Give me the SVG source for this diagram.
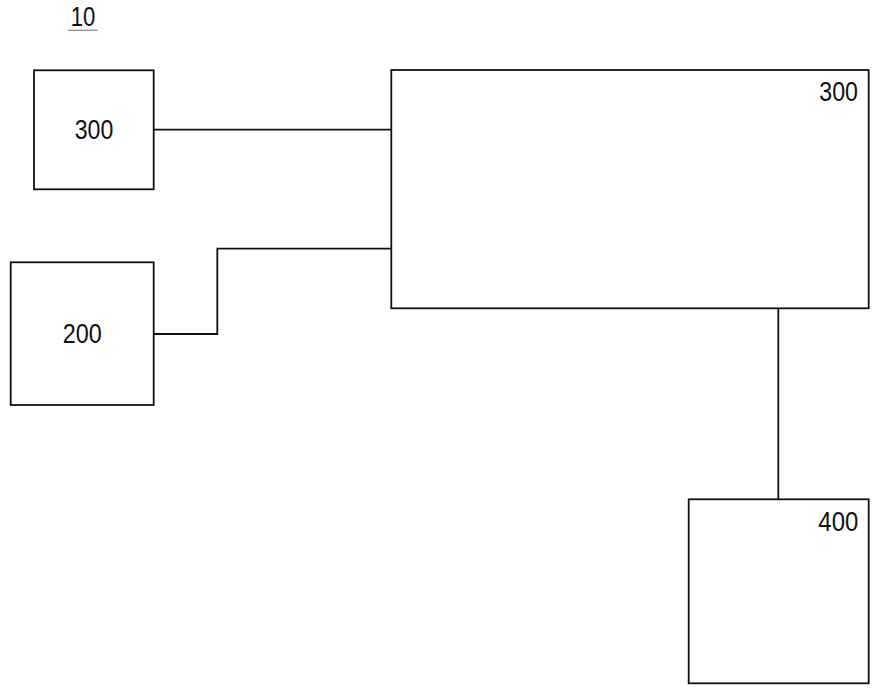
<svg xmlns="http://www.w3.org/2000/svg" width="879" height="692" viewBox="0 0 879 692">
<style>
.box{fill:#fff;stroke:#111;stroke-width:1.8}
.wire{fill:none;stroke:#111;stroke-width:1.8}
.lbl{font-family:"Liberation Sans",Arial,sans-serif;font-size:27px;fill:#111}
</style>
<rect width="879" height="692" fill="#fff"/>
<g id="title">
<text class="lbl" x="70.7" y="26" textLength="24.6" lengthAdjust="spacingAndGlyphs">10</text>
<line x1="67.7" y1="30.3" x2="97.7" y2="30.3" stroke="#888" stroke-width="1.2"/>
</g>
<g id="connectors">
<line class="wire" x1="153.7" y1="129.7" x2="391.3" y2="129.7"/>
<polyline class="wire" points="153.7,334 217.3,334 217.3,248.7 391.3,248.7"/>
<line class="wire" x1="778.3" y1="308.3" x2="778.3" y2="499.3"/>
</g>
<g id="node-300-small">
<rect class="box" x="34" y="70.3" width="119.7" height="119"/>
<text class="lbl" x="74.7" y="139.3" textLength="38.6" lengthAdjust="spacingAndGlyphs">300</text>
</g>
<g id="node-200">
<rect class="box" x="10.7" y="262.3" width="143" height="142.7"/>
<text class="lbl" x="62.7" y="342.7" textLength="39" lengthAdjust="spacingAndGlyphs">200</text>
</g>
<g id="node-300-main">
<rect class="box" x="391.3" y="70" width="477.4" height="238.3"/>
<text class="lbl" x="819.3" y="100.7" textLength="38.7" lengthAdjust="spacingAndGlyphs">300</text>
</g>
<g id="node-400">
<rect class="box" x="688.7" y="499.3" width="180" height="184"/>
<text class="lbl" x="818.3" y="530.7" textLength="40" lengthAdjust="spacingAndGlyphs">400</text>
</g>
</svg>
